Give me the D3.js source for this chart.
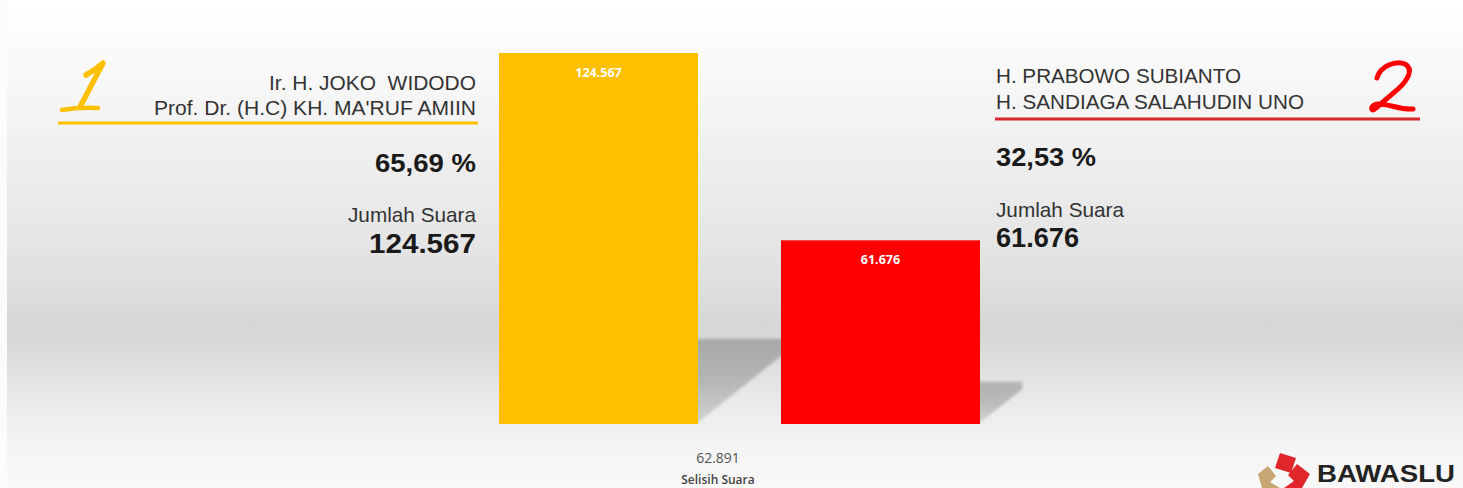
<!DOCTYPE html>
<html>
<head>
<meta charset="utf-8">
<script src="https://cdn.jsdelivr.net/npm/d3@7/dist/d3.min.js"></script>
<style>
html,body{margin:0;padding:0;background:#fff;}
svg{display:block;}
</style>
</head>
<body>
<svg id="chart" width="1463" height="488"></svg>
<script>
// ---- data ----
const candidates = ["01", "02"];
const numbers = ["1", "2"];
const nameLine1 = ["Ir. H. JOKO  WIDODO", "H. PRABOWO SUBIANTO"];
const nameLine2 = ["Prof. Dr. (H.C) KH. MA'RUF AMIIN", "H. SANDIAGA SALAHUDIN UNO"];
const votes = [124567, 61676];
const percents = ["65,69 %", "32,53 %"];
const voteLabel = "Jumlah Suara";
const diffLabel = "Selisih Suara";
const colors = ["#FFC000", "#FF0000"];
const lineColors = ["#FFC000", "#D9282E"];

// ---- setup ----
const W = 1463, H = 488;
const svg = d3.select("#chart");
const defs = svg.append("defs");
const idFmt = d3.formatLocale({decimal: ",", thousands: ".", grouping: [3], currency: ["", ""]}).format(",d");

// background gradient
const bg = defs.append("linearGradient").attr("id", "bg").attr("x1", 0).attr("y1", 0).attr("x2", 0).attr("y2", 1);
[[0, "#ffffff"], [0.12, "#fafafa"], [0.3, "#f0f0f0"], [0.5, "#e5e5e5"], [0.61, "#dcdcdc"], [0.67, "#d6d6d6"],
 [0.74, "#dddddd"], [0.82, "#e9e9e9"], [0.9, "#f3f3f3"], [1, "#f9f9f9"]]
  .forEach(([o, c]) => bg.append("stop").attr("offset", o).attr("stop-color", c));
svg.append("rect").attr("width", W).attr("height", H).attr("fill", "#fbfbfb");
svg.append("rect").attr("x", 7).attr("width", W - 7).attr("height", H).attr("fill", "url(#bg)");

// shadow gradient + blur
const sg = defs.append("linearGradient").attr("id", "sg").attr("x1", 0).attr("y1", 0).attr("x2", 0).attr("y2", 1);
sg.append("stop").attr("offset", 0).attr("stop-color", "#000").attr("stop-opacity", 0.22);
sg.append("stop").attr("offset", 0.5).attr("stop-color", "#000").attr("stop-opacity", 0.2);
sg.append("stop").attr("offset", 1).attr("stop-color", "#000").attr("stop-opacity", 0.12);
defs.append("filter").attr("id", "blur").attr("x", "-20%").attr("y", "-20%").attr("width", "140%").attr("height", "140%")
  .append("feGaussianBlur").attr("stdDeviation", 1.6);

// scales
const x = d3.scaleBand().domain(candidates).range([499, 980]).paddingInner(0.2943).paddingOuter(0);
const y = d3.scaleLinear().domain([0, d3.max(votes)]).range([424, 53]);
const bw = x.bandwidth();
const rows = candidates.map((c, i) => ({c, i, v: votes[i]}));

// shadows
svg.append("g").selectAll("path").data(rows).join("path")
  .attr("d", d => {
    const R = x(d.c) + bw, y0 = y(0), h = y(0) - y(d.v);
    const w = 0.23 * h;
    return `M${R - 2},${y0} L${R + w},${y0 - 0.82 * w} L${R + w},${y0 - w} L${R - 2},${y0 - w} Z`;
  })
  .attr("fill", "url(#sg)")
  .attr("filter", "url(#blur)");

// bars
svg.append("g").selectAll("rect").data(rows).join("rect")
  .attr("x", d => x(d.c)).attr("y", d => y(d.v))
  .attr("width", bw).attr("height", d => y(0) - y(d.v))
  .attr("fill", d => colors[d.i]);

// bar value labels
svg.append("g").selectAll("text").data(rows).join("text")
  .attr("x", d => x(d.c) + bw / 2).attr("y", d => y(d.v) + 24)
  .attr("text-anchor", "middle")
  .attr("font-family", "'Open Sans', sans-serif").attr("font-weight", 700).attr("font-size", 12.5)
  .attr("fill", "#fff")
  .text(d => idFmt(d.v));

// difference label
const diff = votes[0] - votes[1];
svg.append("text").attr("x", 718).attr("y", 463).attr("text-anchor", "middle")
  .attr("font-family", "'Open Sans', sans-serif").attr("font-size", 14).attr("fill", "#555")
  .text(idFmt(diff));
svg.append("text").attr("x", 718).attr("y", 484).attr("text-anchor", "middle")
  .attr("font-family", "'Open Sans', sans-serif").attr("font-weight", 600).attr("font-size", 12).attr("fill", "#444")
  .text(diffLabel);

// candidate info blocks
const blocks = [
  {anchor: "end", tx: 476, y1: 90, y2: 115, lineX: [58, 478], lineY: 123, py: 172, jy: 222, vy: 253},
  {anchor: "start", tx: 996, y1: 83, y2: 109, lineX: [995, 1420], lineY: 119, py: 166, jy: 217, vy: 247}
];
const widths = {n1: [207, 245], n2: [322, 308], p: [101, 100], j: [128, 128], v: [107, 83]};
const font = "'Liberation Sans', Arial, sans-serif";

function txt(g, xx, yy, anchor, s, size, weight, len, fill) {
  const t = g.append("text").attr("x", xx).attr("y", yy).attr("text-anchor", anchor)
    .attr("font-family", font).attr("font-size", size).attr("font-weight", weight)
    .attr("fill", fill).attr("xml:space", "preserve").style("white-space", "pre").text(s);
  if (len) t.attr("textLength", len).attr("lengthAdjust", "spacingAndGlyphs");
  return t;
}

blocks.forEach((b, i) => {
  const g = svg.append("g");
  txt(g, b.tx, b.y1, b.anchor, nameLine1[i], 20, 400, widths.n1[i], "#333");
  txt(g, b.tx, b.y2, b.anchor, nameLine2[i], 20, 400, widths.n2[i], "#333");
  g.append("line").attr("x1", b.lineX[0]).attr("x2", b.lineX[1]).attr("y1", b.lineY).attr("y2", b.lineY)
    .attr("stroke", lineColors[i]).attr("stroke-width", 3);
  txt(g, b.tx, b.py, b.anchor, percents[i], 26, 700, widths.p[i], "#1a1a1a");
  txt(g, b.tx, b.jy, b.anchor, voteLabel, 21, 400, widths.j[i], "#333");
  txt(g, b.tx, b.vy, b.anchor, idFmt(votes[i]), 27, 700, widths.v[i], "#1a1a1a");
});

// handwritten candidate numbers (drawn as strokes)
const numG = svg.append("g").attr("fill", "none").attr("stroke-linecap", "round").attr("stroke-linejoin", "round");
const numPaths = {
  "1": [["M86,75 Q95,70 103,63 L80,107", 5.5], ["M62,110 Q80,107 98,108", 4.5]],
  "2": [["M1377,78 C1380,66 1396,60 1405,64 C1414,69 1408,80 1398,89 L1376,108 C1370,114 1370,104 1378,104 C1390,104 1400,110 1413,109", 5]]
};
numbers.forEach((n, i) => {
  const g = numG.append("g").attr("stroke", colors[i]);
  g.append("title").text(n);
  numPaths[n].forEach(([d, sw]) => g.append("path").attr("d", d).attr("stroke-width", sw));
});

// BAWASLU logo
const logo = svg.append("g");
logo.append("path").attr("d", "M1258,474 L1268,466 L1276,476 L1270,482 L1280,488 L1262,488 Z").attr("fill", "#C8A574");
logo.append("path").attr("d", "M1297,464 L1310,474 L1302,488 L1284,488 L1294,481 L1288,475 Z").attr("fill", "#E0262B");
logo.append("path").attr("d", "M1280,453 L1296,458 L1291,473 L1275,468 Z").attr("fill", "#E0262B");
logo.append("text").attr("x", 1317).attr("y", 482).attr("font-family", font).attr("font-weight", 700)
  .attr("font-size", 23).attr("fill", "#222").attr("textLength", 138).attr("lengthAdjust", "spacingAndGlyphs")
  .text("BAWASLU");
</script>
</body>
</html>
